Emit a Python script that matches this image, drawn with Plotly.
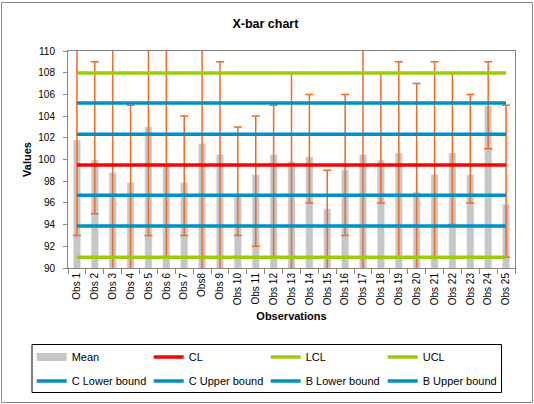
import plotly.graph_objects as go

categories = ["Obs 1", "Obs 2", "Obs 3", "Obs 4", "Obs 5", "Obs 6", "Obs 7", "Obs8", "Obs 9",
              "Obs 10", "Obs 11", "Obs 12", "Obs 13", "Obs 14", "Obs 15", "Obs 16", "Obs 17",
              "Obs 18", "Obs 19", "Obs 20", "Obs 21", "Obs 22", "Obs 23", "Obs 24", "Obs 25"]
means = [101.8, 99.95, 98.8, 97.85, 103.0, 99.4, 97.85, 101.45, 100.45, 96.6, 98.6, 100.45, 99.8,
         100.25, 95.45, 99.05, 100.45, 99.95, 100.6, 97.0, 98.6, 100.6, 98.6, 104.95, 95.85]
maxima = [111, 109, 111, 105, 111, 111, 104, 111, 109, 103, 104, 105, 108,
          106, 99, 106, 111, 108, 109, 107, 109, 108, 106, 109, 105]
minima = [93, 95, 89, 89, 93, 91, 93, 89, 89, 93, 92, 91, 89,
          96, 89, 93, 89, 96, 91, 89, 91, 94, 96, 101, 91]

cl = 99.5
lcl = 91.0
ucl = 107.97
c_lower = 96.7
c_upper = 102.33
b_lower = 93.87
b_upper = 105.2

err_plus = [mx - m for mx, m in zip(maxima, means)]
err_minus = [m - mn for mn, m in zip(minima, means)]

FONT = "Liberation Sans, Arial, sans-serif"
GRAY = "#C6C6C6"
RED = "#FF0000"
GREEN = "#9BCB0A"
BLUE = "#0090C4"
ORANGE = "#F46A1E"
AX = "#868686"

fig = go.Figure()
fig.add_trace(go.Bar(
    x=categories, y=means, marker_color=GRAY, showlegend=False, name="Mean",
    error_y=dict(type="data", symmetric=False, array=err_plus, arrayminus=err_minus,
                 color=ORANGE, thickness=1.5, width=4),
))
# legend entry for the bars (wide grey swatch)
fig.add_trace(go.Scatter(x=[None], y=[None], mode="lines", name="Mean",
                         line=dict(color=GRAY, width=8), legend="legend"))

limit_lines = [
    ("CL", cl, RED, "legend"),
    ("LCL", lcl, GREEN, "legend"),
    ("UCL", ucl, GREEN, "legend"),
    ("C Lower bound", c_lower, BLUE, "legend2"),
    ("C Upper bound", c_upper, BLUE, "legend2"),
    ("B Lower bound", b_lower, BLUE, "legend2"),
    ("B Upper bound", b_upper, BLUE, "legend2"),
]
for name, val, col, lg in limit_lines:
    fig.add_trace(go.Scatter(x=[categories[0], categories[-1]], y=[val, val], mode="lines",
                             name=name, line=dict(color=col, width=3.5), legend=lg))

ml, mr, mt, mb = 68, 19, 51, 136
W, H = 534, 404
pw, ph = W - ml - mr, H - mt - mb

def px_x(x):
    return (x - ml) / pw

def px_y(y):
    return (H - mb - y) / ph

legend_common = dict(orientation="h", entrywidth=72, entrywidthmode="pixels",
                     font=dict(family=FONT, size=11, color="#000000"),
                     bgcolor="rgba(0,0,0,0)", borderwidth=0, xanchor="left", yanchor="middle",
                     itemclick=False, itemdoubleclick=False)

fig.update_layout(
    width=W, height=H,
    margin=dict(l=ml, r=mr, t=mt, b=mb, autoexpand=False),
    paper_bgcolor="white", plot_bgcolor="white",
    font=dict(family=FONT, size=10, color="#000000"),
    title=dict(text="<b>X-bar chart</b>", x=0.497, xref="container", xanchor="center",
               y=1 - 24 / H, yref="container", yanchor="middle",
               font=dict(family=FONT, size=12.5, color="#000000")),
    bargap=0.6,
    legend=dict(x=px_x(31.7), y=px_y(357), **legend_common),
    legend2=dict(x=px_x(31.7), y=px_y(381), **legend_common),
    shapes=[
        dict(type="rect", xref="paper", yref="paper",
             x0=px_x(32), x1=px_x(501.5), y0=px_y(392.5), y1=px_y(344.5),
             line=dict(color="#000000", width=1), fillcolor="rgba(0,0,0,0)", layer="above"),
        dict(type="rect", xref="paper", yref="paper",
             x0=px_x(1.5), x1=px_x(532.5), y0=px_y(402.5), y1=px_y(2.5),
             line=dict(color="#8A8A8A", width=1), fillcolor="rgba(0,0,0,0)", layer="above"),
    ],
)

fig.update_xaxes(
    type="category", range=[-0.5, 24.5], tickangle=-90,
    tickson="boundaries", ticks="outside", ticklen=5, tickcolor=AX,
    showline=True, linecolor=AX, linewidth=1, mirror=True, showgrid=False,
    tickfont=dict(family=FONT, size=10),
    title=dict(text="<b>Observations</b>", font=dict(family=FONT, size=11), standoff=8),
)
fig.update_yaxes(
    range=[90, 110], dtick=2, tick0=90, ticks="outside", ticklen=4, tickcolor=AX,
    showline=True, linecolor=AX, linewidth=1, mirror=True, showgrid=False, zeroline=False,
    tickfont=dict(family=FONT, size=10), ticklabelstandoff=6,
    title=dict(text="<b>Values</b>", font=dict(family=FONT, size=11), standoff=4),
)

fig.write_html("out.html")
